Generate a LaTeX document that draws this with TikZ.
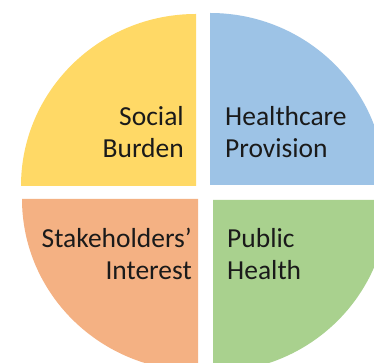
\documentclass[tikz,border=0pt]{standalone}
\usepackage{fontspec}
\setmainfont{Carlito}
\definecolor{qyellow}{HTML}{FFD966}
\definecolor{qblue}{HTML}{9DC3E6}
\definecolor{qorange}{HTML}{F4B183}
\definecolor{qgreen}{HTML}{A9D18E}
\definecolor{txt}{HTML}{1A1A1A}
\begin{document}
\begin{tikzpicture}[x=1pt,y=1pt,
  lbl/.style={text=txt,font=\fontsize{27.5}{32}\selectfont,inner sep=0pt,align=#1},
  lbl/.default=left]
\useasboundingbox (0,0) rectangle (374,363);
\clip (0,0) rectangle (374,363);
\fill[white] (0,0) rectangle (374,363);
% yellow (top-left), corner (196,177)
\fill[qyellow] (196,177) -- ++(-175,0) arc[start angle=180,end angle=90,x radius=175,y radius=172] -- cycle;
% blue (top-right), corner (210,178)
\fill[qblue] (210,178) -- ++(0,172) arc[start angle=90,end angle=0,x radius=175,y radius=172] -- cycle;
% orange (bottom-left), corner (198,164)
\fill[qorange] (198,164) -- ++(-176,0) arc[start angle=180,end angle=270,x radius=176,y radius=172] -- cycle;
% green (bottom-right), corner (213,163)
\fill[qgreen] (213,163) -- ++(0,-172) arc[start angle=270,end angle=360,x radius=175,y radius=172] -- cycle;
\node[lbl=right,anchor=base east] (sb) at (184,205) {Social\\Burden};
\node[lbl=left,anchor=base west] (hp) at (225,205) {Healthcare\\Provision};
\node[lbl=right,anchor=base east] (si) at (192,83) {Stakeholders’\\Interest};
\node[lbl=left,anchor=base west] (ph) at (227,83) {Public\\Health};
\end{tikzpicture}
\end{document}
